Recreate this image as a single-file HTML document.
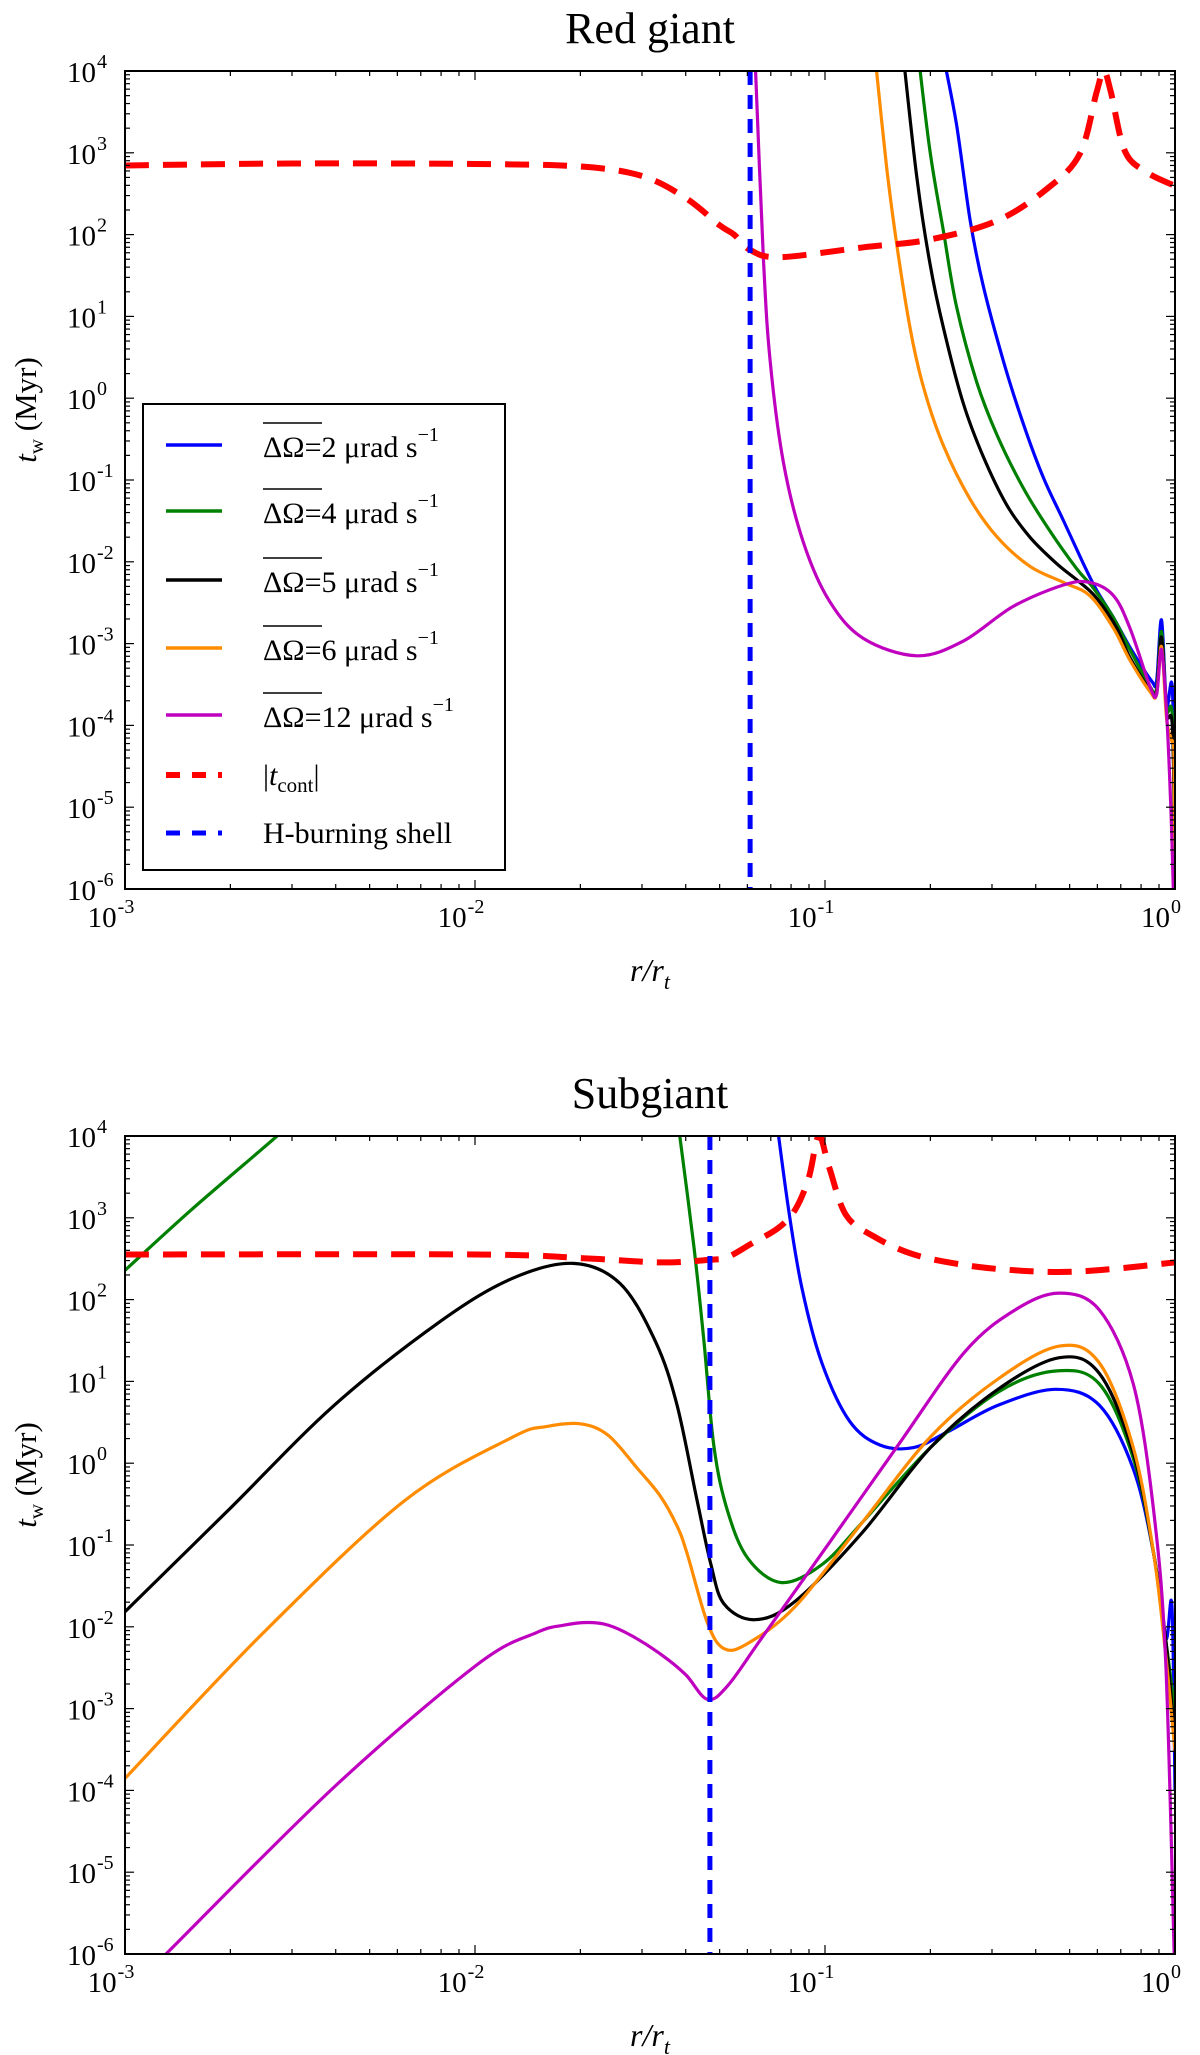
<!DOCTYPE html>
<html><head><meta charset="utf-8"><style>
html,body{margin:0;padding:0;background:#fff}
svg{display:block}
text{font-family:"Liberation Serif",serif;fill:#000}
</style></head><body>
<svg id="fig" width="1200" height="2055" viewBox="0 0 1200 2055" xmlns="http://www.w3.org/2000/svg"></svg>
<script>
// ---------- Data: Red giant panel ----------
const rgBlueR = [0.218,0.2375,0.260,0.283,0.323,0.369,0.421,0.480,0.547,0.597,0.666,0.743,0.857,0.886,0.915,0.946,0.984,1.0];
const rgBlueT = [1.5e4,2230,148,24,2.9,0.48,0.106,0.032,9.5e-3,4.5e-3,2.1e-3,9.1e-4,3.5e-4,3.5e-4,1.95e-3,1.8e-4,2.6e-4,1e-6];
const rgGreenR = [0.185,0.1995,0.218,0.2375,0.271,0.310,0.369,0.440,0.524,0.584,0.666,0.743,0.848,0.886,0.915,0.946,0.984,1.0];
const rgGreenT = [1.5e4,1050,109,13.2,1.6,0.355,0.079,0.0235,8.2e-3,4.8e-3,2.1e-3,8.5e-4,3.0e-4,2.8e-4,1.4e-3,1.6e-4,1.2e-4,1e-6];
const rgBlackR = [0.1675,0.183,0.1995,0.218,0.248,0.283,0.330,0.385,0.459,0.535,0.597,0.681,0.743,0.848,0.886,0.915,0.946,0.984,1.0];
const rgBlackT = [1.5e4,495,44,7.2,0.88,0.195,0.050,0.020,9.5e-3,5.6e-3,3.6e-3,1.56e-3,6.8e-4,2.7e-4,2.6e-4,1.2e-3,1.4e-4,9e-5,1e-6];
const rgOrangeR = [0.139,0.150,0.160,0.175,0.191,0.218,0.260,0.310,0.385,0.480,0.571,0.666,0.743,0.848,0.886,0.915,0.946,0.978,0.993,1.0];
const rgOrangeT = [1.5e4,668,81,7.2,1.38,0.262,0.058,0.0202,8.8e-3,5.6e-3,3.85e-3,1.56e-3,6.3e-4,2.6e-4,2.4e-4,9.2e-4,1.2e-4,6.6e-5,4.2e-5,1e-6];
const rgPurpleR = [0.0631,0.0667,0.0697,0.076,0.0867,0.103,0.129,0.183,0.248,0.345,0.480,0.571,0.666,0.743,0.848,0.886,0.915,0.946,0.971,0.989];
const rgPurpleT = [1.5e4,51,2.9,0.167,0.0174,3.3e-3,1.15e-3,7.1e-4,1.07e-3,2.85e-3,5.2e-3,5.6e-3,3.9e-3,1.56e-3,3.0e-4,2.4e-4,8.5e-4,1.4e-4,1.26e-5,1e-6];
const rgContR = [0.001,0.003,0.01,0.02,0.03,0.04,0.05,0.055,0.0611,0.0743,0.129,0.1995,0.310,0.432,0.535,0.597,0.626,0.656,0.719,0.829,1.0];
const rgContT = [700,740,730,680,520,280,130,100,65,53,70,87,148,366,975,5500,1e4,5500,1050,580,394];
const rgShellR = 0.0611;

// ---------- Data: Subgiant panel ----------
const sgBlueR = [0.0728,0.0787,0.086,0.098,0.1175,0.1435,0.179,0.224,0.312,0.456,0.608,0.76,0.869,0.94,0.98,1.0];
const sgBlueT = [1.5e4,1260,135,16.8,3.27,1.67,1.55,2.42,5.1,8.0,5.1,0.85,0.078,7.2e-3,0.018,1e-4];
const sgGreenLeftR = [0.001,0.00155,0.00272,0.0030];
const sgGreenLeftT = [228,1260,1e4,1.5e4];
const sgGreenR = [0.0380,0.0422,0.0451,0.0482,0.0527,0.0603,0.0752,0.0982,0.128,0.2,0.312,0.456,0.608,0.76,0.869,0.94,1.0];
const sgGreenT = [1.5e4,446,30.5,1.55,0.259,0.068,0.0347,0.058,0.19,1.55,7.4,13.4,9.3,1.15,0.078,7.2e-3,9e-4];
const sgBlackR = [0.001,0.00196,0.00396,0.0080,0.0128,0.0191,0.026,0.0328,0.0378,0.0431,0.0472,0.0515,0.063,0.0823,0.128,0.2,0.312,0.467,0.608,0.76,0.869,0.94,1.0];
const sgBlackT = [0.0153,0.259,5.1,55,182,277,157,30.5,5.1,0.35,0.058,0.019,0.0122,0.0206,0.143,1.55,8.0,19.5,12.5,1.33,0.078,7.2e-3,4e-4];
const sgOrangeR = [0.001,0.00248,0.0063,0.0128,0.016,0.020,0.024,0.0292,0.0338,0.0378,0.0404,0.0461,0.0515,0.0603,0.0823,0.128,0.2,0.312,0.467,0.608,0.76,0.869,0.94,1.0];
const sgOrangeT = [1.4e-4,8.4e-3,0.35,2.08,2.8,3.03,2.2,0.85,0.4,0.17,0.078,0.0113,5.4e-3,6.3e-3,0.0178,0.19,2.09,10.7,27,16.8,1.55,0.078,4.7e-3,3e-4];
const sgPurpleR = [0.00131,0.00396,0.0101,0.015,0.018,0.021,0.024,0.028,0.034,0.040,0.0461,0.0527,0.0658,0.1028,0.160,0.25,0.349,0.467,0.608,0.76,0.869,0.94,0.995];
const sgPurpleT = [1e-6,1.1e-4,3.4e-3,8.5e-3,0.0105,0.0113,0.0105,7.8e-3,4.6e-3,2.6e-3,1.3e-3,1.9e-3,7.2e-3,0.106,1.55,22.6,74.6,120,74.6,9.3,0.26,4e-3,1e-6];
const sgContR = [0.001,0.0101,0.0204,0.0338,0.0469,0.0527,0.0615,0.0736,0.0823,0.0899,0.096,0.1027,0.1147,0.137,0.179,0.25,0.349,0.488,0.68,1.0];
const sgContT = [356,356,321,285,307,331,481,752,1270,3100,1e4,4200,1090,600,357,265,228,218,239,285];
const sgShellR = 0.0469;

// ---------- Axis config ----------
const xTickExps = [-3,-2,-1,0];
const yTickExps = [-6,-5,-4,-3,-2,-1,0,1,2,3,4];
const legendLabels = ["2","4","5","6","12"];

const NS = "http://www.w3.org/2000/svg";
const svg = document.getElementById('fig');
const L = 125, R = 1175;
const X0 = -3, X1 = 0, Y0 = -6, Y1 = 4;
const colors = ['#0000ff', '#008000', '#000000', '#ff8c00', '#bf00bf'];

function mk(tag, attrs, parent){
  const e = document.createElementNS(NS, tag);
  for (const k in attrs) e.setAttribute(k, attrs[k]);
  (parent||svg).appendChild(e);
  return e;
}

function smoothPath(pts){
  if (pts.length < 3) return pts.map((p,i)=>(i?'L':'M')+p[0].toFixed(1)+' '+p[1].toFixed(1)).join(' ');
  let d = 'M' + pts[0][0].toFixed(1) + ' ' + pts[0][1].toFixed(1);
  for (let i = 0; i < pts.length - 1; i++){
    const p0 = pts[Math.max(0, i-1)], p1 = pts[i], p2 = pts[i+1], p3 = pts[Math.min(pts.length-1, i+2)];
    const k = 1/6;
    const c1 = [p1[0] + (p2[0]-p0[0])*k, p1[1] + (p2[1]-p0[1])*k];
    const c2 = [p2[0] - (p3[0]-p1[0])*k, p2[1] - (p3[1]-p1[1])*k];
    d += ' C' + c1[0].toFixed(1)+' '+c1[1].toFixed(1)+' '+c2[0].toFixed(1)+' '+c2[1].toFixed(1)+' '+p2[0].toFixed(1)+' '+p2[1].toFixed(1);
  }
  return d;
}

function panel(top, bottom, title, series, contR, contT, shellR, name, withLegend){
  const g = mk('g', {});
  
  
  const xs = v => L + (Math.log10(v) - X0) / (X1 - X0) * (R - L);
  const ys = v => bottom - (Math.log10(v) - Y0) / (Y1 - Y0) * (bottom - top);
  const clipId = 'clip-' + name;
  const cp = mk('clipPath', {id: clipId}, g);
  mk('rect', {x: L, y: top, width: R - L, height: bottom - top}, cp);

  const t = mk('text', {x: 650, y: top - 28, 'font-size': 44, 'text-anchor': 'middle'}, g);
  t.textContent = title;
  
  

  const plot = mk('g', {'clip-path': 'url(#' + clipId + ')'}, g);
  
  

  series.forEach(s => {
    const pts = s.r.map((r, i) => [xs(r), ys(s.t[i])]);
    const p = mk('path', {d: smoothPath(pts), fill: 'none', stroke: s.c, 'stroke-width': 3.2, 'stroke-linejoin': 'round'}, plot);
    
    
  });
  const cpts = contR.map((r, i) => [xs(r), ys(contT[i])]);
  const pc = mk('path', {d: smoothPath(cpts), fill: 'none', stroke: '#ff0000', 'stroke-width': 6, 'stroke-dasharray': '24 14'}, plot);
  
  
  const sx = xs(shellR);
  const ps = mk('line', {x1: sx, x2: sx, y1: top, y2: bottom, stroke: '#0000ff', 'stroke-width': 5, 'stroke-dasharray': '14 10'}, plot);
  
  

  const fr = mk('rect', {x: L, y: top, width: R - L, height: bottom - top, fill: 'none', stroke: '#000', 'stroke-width': 2}, g);
  
  

  const tk = mk('g', {stroke: '#000', 'stroke-width': 1.2}, g);
  
  
  for (let e = X0; e <= X1; e++){
    for (let m = 1; m <= 9; m++){
      const v = m * Math.pow(10, e);
      if (Math.log10(v) > X1 + 1e-9) break;
      const x = xs(v), len = m === 1 ? 9 : 5;
      mk('line', {x1: x, x2: x, y1: bottom, y2: bottom - len}, tk);
      mk('line', {x1: x, x2: x, y1: top, y2: top + len}, tk);
    }
  }
  for (let e = Y0; e <= Y1; e++){
    for (let m = 1; m <= 9; m++){
      const v = m * Math.pow(10, e);
      if (Math.log10(v) > Y1 + 1e-9) break;
      const y = ys(v), len = m === 1 ? 9 : 5;
      mk('line', {x1: L, x2: L + len, y1: y, y2: y}, tk);
      mk('line', {x1: R, x2: R - len, y1: y, y2: y}, tk);
    }
  }
  xTickExps.forEach(e => {
    const x = xs(Math.pow(10, e));
    const tx = mk('text', {x: x - 14, y: bottom + 38, 'font-size': 29, 'text-anchor': 'middle'}, g);
    
    
    tx.textContent = '10';
    const sp = mk('tspan', {'font-size': 20, dy: -14, dx: 1}, tx);
    sp.textContent = e === 0 ? '0' : String(e);
  });
  yTickExps.forEach(e => {
    const y = ys(Math.pow(10, e));
    const tx = mk('text', {x: 96, y: y + 11, 'font-size': 29, 'text-anchor': 'end'}, g);
    
    
    tx.textContent = '10';
    const sp = mk('text', {x: 97, y: y - 3, 'font-size': 20, 'text-anchor': 'start'}, g);
    
    
    sp.textContent = e === 0 ? '0' : String(e);
  });
  const xt = mk('text', {x: 650, y: bottom + 92, 'font-size': 32, 'text-anchor': 'middle', 'font-style': 'italic'}, g);
  
  
  xt.textContent = 'r/r';
  const xts = mk('tspan', {'font-size': 22, dy: 8}, xt);
  xts.textContent = 't';
  const cy = (top + bottom) / 2;
  const yt = mk('text', {x: 0, y: 0, 'font-size': 31, 'text-anchor': 'middle', transform: 'translate(36,' + (cy - 70) + ') rotate(-90)'}, g);
  
  
  const a = mk('tspan', {'font-style': 'italic'}, yt); a.textContent = 't';
  const b = mk('tspan', {'font-size': 21, dy: 7}, yt); b.textContent = 'w';
  const c = mk('tspan', {dy: -7}, yt); c.textContent = ' (Myr)';

  if (withLegend){
    const lg = mk('g', {}, g);
    
    
    mk('rect', {x: 143, y: 404, width: 362, height: 466, fill: '#fff', stroke: '#000', 'stroke-width': 2}, lg);
    const ysL = [445, 511, 580, 648, 715];
    legendLabels.forEach((lab, i) => {
      const en = mk('g', {}, lg);
      
      
      mk('line', {x1: 166, x2: 222, y1: ysL[i], y2: ysL[i], stroke: colors[i], 'stroke-width': 3.5}, en);
      mk('line', {x1: 263, x2: 322, y1: ysL[i] - 22, y2: ysL[i] - 22, stroke: '#000', 'stroke-width': 1.5}, en);
      const tx = mk('text', {x: 263, y: ysL[i] + 12, 'font-size': 30}, en);
      tx.textContent = 'ΔΩ=' + lab + ' μrad s';
      const sp = mk('tspan', {'font-size': 20, dy: -16}, tx); sp.textContent = '−1';
    });
    const e1 = mk('g', {}, lg);
    
    
    mk('line', {x1: 166, x2: 222, y1: 775, y2: 775, stroke: '#ff0000', 'stroke-width': 6, 'stroke-dasharray': '14 12'}, e1);
    const t1 = mk('text', {x: 263, y: 785, 'font-size': 30}, e1);
    t1.textContent = '|';
    const t1a = mk('tspan', {'font-style': 'italic'}, t1); t1a.textContent = 't';
    const t1b = mk('tspan', {'font-size': 21, dy: 7}, t1); t1b.textContent = 'cont';
    const t1c = mk('tspan', {dy: -7}, t1); t1c.textContent = '|';
    const e2 = mk('g', {}, lg);
    
    
    mk('line', {x1: 166, x2: 222, y1: 833, y2: 833, stroke: '#0000ff', 'stroke-width': 5, 'stroke-dasharray': '14 12'}, e2);
    const t2 = mk('text', {x: 263, y: 843, 'font-size': 30}, e2);
    t2.textContent = 'H-burning shell';
  }
}

panel(71, 889, 'Red giant', [
  {r: rgBlueR, t: rgBlueT, c: colors[0], n: 'rg-curve-2'},
  {r: rgGreenR, t: rgGreenT, c: colors[1], n: 'rg-curve-4'},
  {r: rgBlackR, t: rgBlackT, c: colors[2], n: 'rg-curve-5'},
  {r: rgOrangeR, t: rgOrangeT, c: colors[3], n: 'rg-curve-6'},
  {r: rgPurpleR, t: rgPurpleT, c: colors[4], n: 'rg-curve-12'}
], rgContR, rgContT, rgShellR, 'red-giant-panel', true);
panel(1136, 1954, 'Subgiant', [
  {r: sgBlueR, t: sgBlueT, c: colors[0], n: 'sg-curve-2'},
  {r: sgGreenLeftR, t: sgGreenLeftT, c: colors[1], n: 'sg-curve-4-left'},
  {r: sgGreenR, t: sgGreenT, c: colors[1], n: 'sg-curve-4'},
  {r: sgBlackR, t: sgBlackT, c: colors[2], n: 'sg-curve-5'},
  {r: sgOrangeR, t: sgOrangeT, c: colors[3], n: 'sg-curve-6'},
  {r: sgPurpleR, t: sgPurpleT, c: colors[4], n: 'sg-curve-12'}
], sgContR, sgContT, sgShellR, 'subgiant-panel', false);
</script>
</body></html>
